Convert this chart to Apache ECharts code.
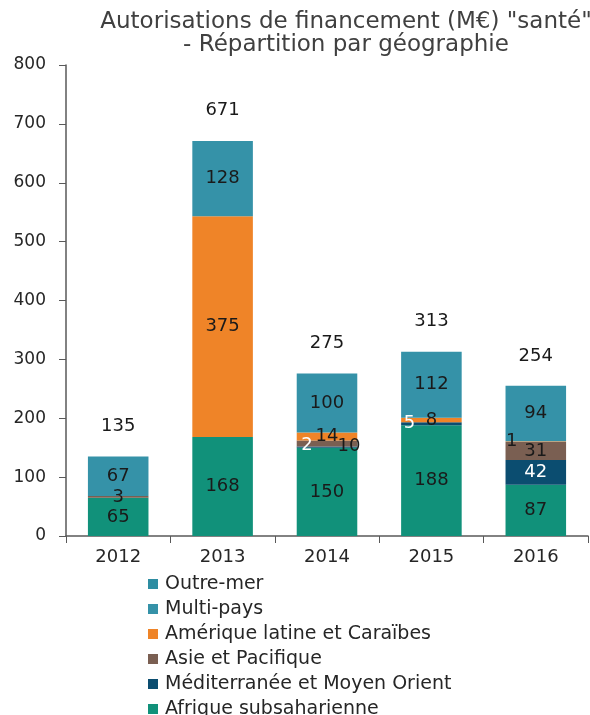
<!DOCTYPE html>
<html>
<head>
<meta charset="utf-8">
<script src="https://cdn.jsdelivr.net/npm/echarts@6/dist/echarts.min.js"></script>
<style>html,body{margin:0;padding:0;background:#fff}#c{width:590px;height:715px}</style>
</head>
<body>
<div id="c"></div>
<script>
var categories = ['2012', '2013', '2014', '2015', '2016'];
var afrique = [65, 168, 150, 188, 87];
var mediterranee = [null, null, 2, 5, 42];
var asie = [3, null, 10, null, 31];
var amerique = [null, 375, 14, 8, 1];
var multiPays = [67, 128, 100, 112, 94];
var outreMer = [null, null, null, null, null];
var totals = [135, 671, 275, 313, 254];
var yTicks = [0, 100, 200, 300, 400, 500, 600, 700, 800];

var FONT = 'DejaVu Sans';
var chart = echarts.init(document.getElementById('c'), null, {renderer: 'canvas'});

// manual label offsets (style only)
var offsets = {
  'Méditerranée et Moyen Orient': {2: [-20, -2], 3: [-22, -1]},
  'Asie et Pacifique': {2: [22, 3]},
  'Amérique latine et Caraïbes': {4: [-24, 0]}
};

function mk(name, arr, color, labelColor) {
  return {
    name: name, type: 'bar', stack: 'tot', barWidth: '58%',
    itemStyle: {color: color},
    label: {
      show: true, position: 'inside', color: labelColor, fontFamily: FONT, fontSize: 18,
      formatter: function (p) { return p.value == null ? '' : p.value; }
    },
    data: arr.map(function (v, i) {
      var o = offsets[name] && offsets[name][i];
      if (o && v != null) return {value: v, label: {offset: o}};
      return v;
    })
  };
}

var series = [
  mk('Afrique subsaharienne', afrique, '#11917a', '#1a1a1a'),
  mk('Méditerranée et Moyen Orient', mediterranee, '#0b4d70', '#ffffff'),
  mk('Asie et Pacifique', asie, '#7a5f52', '#1a1a1a'),
  mk('Amérique latine et Caraïbes', amerique, '#ef8428', '#1a1a1a'),
  mk('Multi-pays', multiPays, '#3592a8', '#1a1a1a'),
  mk('Outre-mer', outreMer, '#2e8da2', '#1a1a1a'),
  {
    name: 'Total', type: 'line', data: totals, symbol: 'circle', symbolSize: 1,
    itemStyle: {color: 'transparent'}, lineStyle: {opacity: 0}, silent: true,
    label: {show: true, position: 'top', distance: 21, color: '#1a1a1a', fontFamily: FONT, fontSize: 18}
  }
];

chart.setOption({
  animation: false,
  title: [
    {text: 'Autorisations de financement (M€) "santé"', left: 341, top: 6, textAlign: 'center',
     textStyle: {fontFamily: FONT, fontSize: 23, fontWeight: 'normal', color: '#404040'}},
    {text: '- Répartition par géographie', left: 341, top: 29, textAlign: 'center',
     textStyle: {fontFamily: FONT, fontSize: 23, fontWeight: 'normal', color: '#404040'}}
  ],
  legend: {
    orient: 'vertical', left: 148, top: 574, height: 200, padding: 0, icon: 'rect',
    itemWidth: 10, itemHeight: 10, itemGap: 5,
    data: ['Outre-mer', 'Multi-pays', 'Amérique latine et Caraïbes', 'Asie et Pacifique', 'Méditerranée et Moyen Orient', 'Afrique subsaharienne'],
    textStyle: {fontFamily: FONT, fontSize: 19, color: '#262626', lineHeight: 20, padding: [0, 0, 0, 2]}
  },
  grid: {left: 66, right: 2, top: 65, bottom: 179},
  xAxis: {
    type: 'category', data: categories,
    axisLine: {lineStyle: {color: '#595959', width: 1.5}},
    axisTick: {show: true, length: 7, lineStyle: {color: '#595959'}},
    axisLabel: {fontFamily: FONT, fontSize: 18, color: '#262626', margin: 12}
  },
  yAxis: {
    type: 'value', min: 0, max: 800, interval: 100,
    axisLine: {show: true, lineStyle: {color: '#595959', width: 1.5}},
    axisTick: {show: true, length: 7, lineStyle: {color: '#595959'}},
    splitLine: {show: false},
    axisLabel: {fontFamily: FONT, fontSize: 17, color: '#262626', margin: 20,
      formatter: function (v) { return yTicks.indexOf(v) >= 0 ? String(v) : ''; }}
  },
  series: series
});
</script>
</body>
</html>
